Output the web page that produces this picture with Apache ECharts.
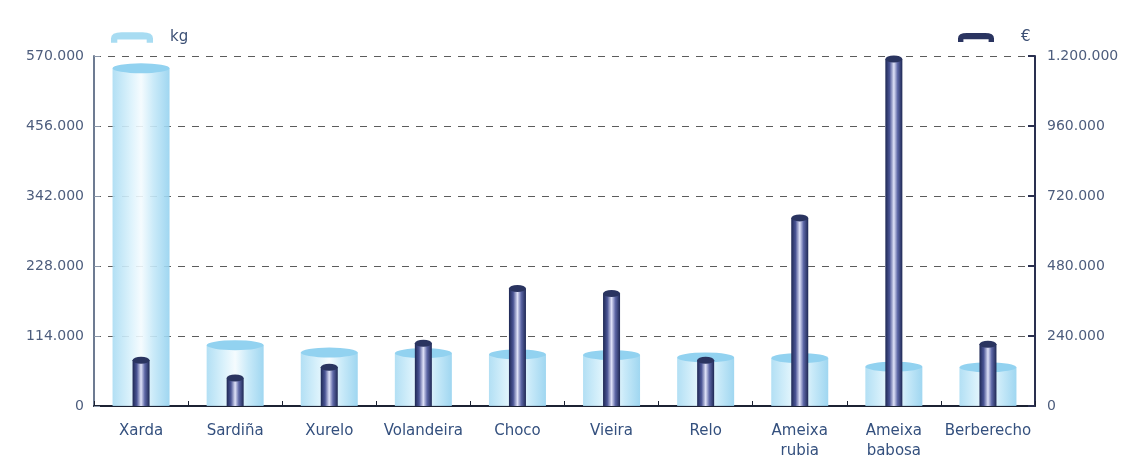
<!DOCTYPE html>
<html>
<head>
<meta charset="utf-8">
<script src="https://cdn.jsdelivr.net/npm/echarts@6/dist/echarts.min.js"></script>
<style>
html,body{margin:0;padding:0;background:#fff;}
#c{width:1122px;height:463px;}
</style>
</head>
<body>
<div id="c"></div>
<script>
const categories = ['Xarda','Sardiña','Xurelo','Volandeira','Choco','Vieira','Relo','Ameixa\nrubia','Ameixa\nbabosa','Berberecho'];
const kgValues = [550000, 99000, 87000, 86000, 84000, 83000, 79000, 78000, 64000, 63000];
const eurValues = [157000, 96000, 133000, 215000, 403000, 386000, 157000, 645000, 1190000, 212000];
const kgTicks = [0, 114000, 228000, 342000, 456000, 570000];
const eurTicks = [0, 240000, 480000, 720000, 960000, 1200000];

function fmt(v){ return String(v).replace(/\B(?=(\d{3})+(?!\d))/g, '.'); }

const chart = echarts.init(document.getElementById('c'), null, {renderer:'canvas'});
const G = echarts.graphic.LinearGradient;
const kgGrad = new G(0,0,1,0,[
  {offset:0, color:'#aadcf3'},
  {offset:0.3, color:'#d6f0fb'},
  {offset:0.5, color:'#f4fbfe'},
  {offset:0.72, color:'#c4e8f8'},
  {offset:1, color:'#95d2ef'}
]);
const eurGrad = new G(0,0,1,0,[
  {offset:0, color:'#1e2854'},
  {offset:0.25, color:'#4a5494'},
  {offset:0.5, color:'#dfe2f8'},
  {offset:0.72, color:'#5d67a6'},
  {offset:1, color:'#1e2854'}
]);
const FONT = 'DejaVu Sans, Liberation Sans, sans-serif';
const legendIcon = 'path://M0,6 Q0,0 10,0 L30,0 Q40,0 40,6 L40,10 L34,10 L34,7 L6,7 L6,10 L0,10 Z';

const option = {
  animation:false,
  backgroundColor:'#ffffff',
  textStyle:{fontFamily:FONT},
  legend:[
    {left:106, top:25, itemWidth:42, itemHeight:11, itemGap:14,
     textStyle:{color:'#3b4f74', fontSize:15, fontFamily:FONT, padding:[0,0,0,12]},
     data:[{name:'kg', icon:legendIcon, itemStyle:{color:'#9fd8f1'}}]},
    {left:953, top:25, itemWidth:36, itemHeight:11, itemGap:22,
     textStyle:{color:'#3b4f74', fontSize:15, fontFamily:FONT, padding:[0,0,0,22]},
     data:[{name:'€', icon:legendIcon, itemStyle:{color:'#2a3460'}}]}
  ],
  grid:{left:94, right:87, top:56, bottom:57, containLabel:false},
  xAxis:[
    {type:'category', data:categories,
     axisLine:{show:true, lineStyle:{color:'#1c2233', width:2}},
     axisTick:{show:true, inside:true, length:5, lineStyle:{color:'#1c2233'}},
     axisLabel:{color:'#34507e', fontSize:15, fontFamily:FONT, margin:15, lineHeight:20, interval:0}},
    {type:'category', data:categories, show:false}
  ],
  yAxis:[
    {type:'value', min:0, max:570000, interval:114000, position:'left',
     axisLine:{show:true, lineStyle:{color:'#6d7b92', width:2}},
     axisTick:{show:true, inside:true, length:6, lineStyle:{color:'#8a96a8'}},
     axisLabel:{color:'#4d5d7d', fontSize:14, fontFamily:FONT, margin:10, formatter:v=>fmt(v)},
     splitLine:{show:true, lineStyle:{color:'#5c5c5c', type:[7,7], width:1}}},
    {type:'value', min:0, max:1200000, interval:240000, position:'right',
     axisLine:{show:true, lineStyle:{color:'#2a3050', width:2}},
     axisTick:{show:true, inside:true, length:7, lineStyle:{color:'#2a3050', width:2}},
     axisLabel:{color:'#4d5d7d', fontSize:14, fontFamily:FONT, margin:12, formatter:v=>fmt(v)},
     splitLine:{show:false}}
  ],
  series:[
    {name:'kg', type:'bar', xAxisIndex:0, yAxisIndex:0, data:kgValues, barWidth:57, z:2,
     itemStyle:{color:kgGrad, opacity:0.9}},
    {name:'kgcap', type:'pictorialBar', xAxisIndex:0, yAxisIndex:0, data:kgValues, symbol:'circle',
     symbolSize:[57,10], symbolPosition:'end', symbolOffset:[0,'-50%'], z:3,
     itemStyle:{color:'#92d2f0'}},
    {name:'€', type:'bar', xAxisIndex:1, yAxisIndex:1, data:eurValues, barWidth:17, z:4,
     itemStyle:{color:eurGrad}},
    {name:'eurcap', type:'pictorialBar', xAxisIndex:1, yAxisIndex:1, data:eurValues, symbol:'circle',
     symbolSize:[17,7], symbolPosition:'end', symbolOffset:[0,'-50%'], z:5,
     itemStyle:{color:'#2a3460'}}
  ]
};
chart.setOption(option);
</script>
</body>
</html>
